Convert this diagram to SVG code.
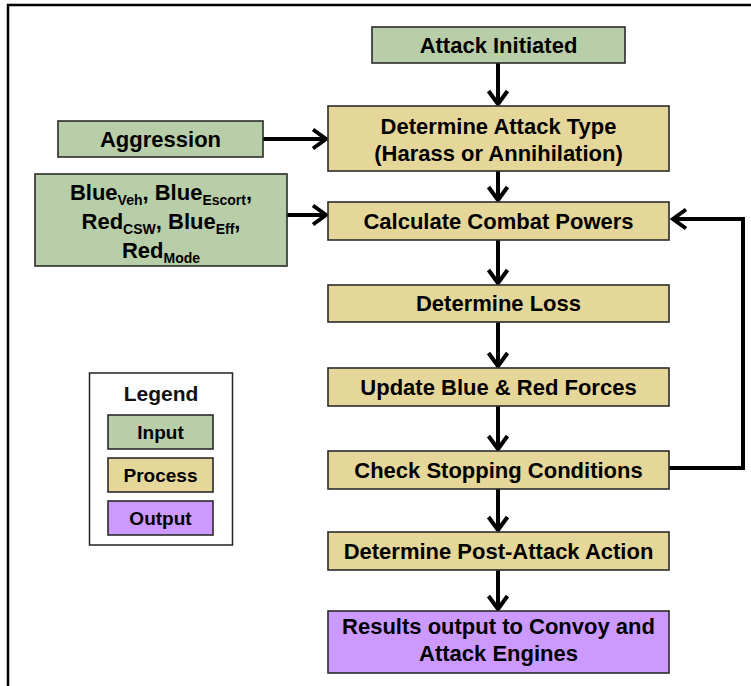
<svg xmlns="http://www.w3.org/2000/svg" width="751" height="686" viewBox="0 0 751 686">
  <style>
    .box { stroke: #2b2b2b; stroke-width: 1.6; }
    .input { fill: #b8cea9; }
    .process { fill: #e5d799; }
    .output { fill: #cc99ff; }
    .label { font-family: "Liberation Sans", Arial, sans-serif; font-weight: bold; font-size: 22px; fill: #000; text-anchor: middle; }
    .sub { font-size: 14px; }
    .legend-title { font-family: "Liberation Sans", Arial, sans-serif; font-weight: bold; font-size: 21px; fill: #111; text-anchor: middle; }
    .legend-item { font-family: "Liberation Sans", Arial, sans-serif; font-weight: bold; font-size: 19px; fill: #000; text-anchor: middle; }
    .conn { fill: none; stroke: #000; stroke-width: 4; }
  </style>
  <defs>
    <marker id="chevron" markerUnits="userSpaceOnUse" markerWidth="20" markerHeight="24" refX="15" refY="11" orient="auto" viewBox="0 0 20 22">
      <path d="M2,1.5 L15,11 L2,20.5" fill="none" stroke="#000" stroke-width="4" stroke-linejoin="miter"/>
    </marker>
  </defs>

  <rect width="751" height="686" fill="#ffffff"/>
  <!-- outer frame -->
  <path d="M8,690 V5 H760" fill="none" stroke="#000" stroke-width="2.5"/>

  <!-- connectors -->
  <g id="connectors">
    <line class="conn" x1="498" y1="63" x2="498" y2="104" marker-end="url(#chevron)"/>
    <line class="conn" x1="263" y1="139" x2="326" y2="139" marker-end="url(#chevron)"/>
    <line class="conn" x1="498" y1="171" x2="498" y2="200" marker-end="url(#chevron)"/>
    <line class="conn" x1="287" y1="215" x2="326" y2="215" marker-end="url(#chevron)"/>
    <line class="conn" x1="498" y1="240" x2="498" y2="283" marker-end="url(#chevron)"/>
    <line class="conn" x1="498" y1="322" x2="498" y2="366" marker-end="url(#chevron)"/>
    <line class="conn" x1="498" y1="406" x2="498" y2="449" marker-end="url(#chevron)"/>
    <line class="conn" x1="498" y1="489" x2="498" y2="530" marker-end="url(#chevron)"/>
    <line class="conn" x1="498" y1="570" x2="498" y2="609" marker-end="url(#chevron)"/>
    <path class="conn" d="M669,468 H743 V219 H673" marker-end="url(#chevron)"/>
  </g>

  <!-- nodes -->
  <g id="attack-initiated">
    <rect class="box input" x="372" y="27" width="253" height="36"/>
    <text class="label" x="498.5" y="52.5">Attack Initiated</text>
  </g>

  <g id="aggression">
    <rect class="box input" x="58" y="121" width="205" height="36"/>
    <text class="label" x="160.5" y="146.5">Aggression</text>
  </g>

  <g id="determine-attack-type">
    <rect class="box process" x="328" y="106" width="341" height="65"/>
    <text class="label" x="498.5" y="133.5">Determine Attack Type</text>
    <text class="label" x="498.5" y="160.5">(Harass or Annihilation)</text>
  </g>

  <g id="force-inputs">
    <rect class="box input" x="35" y="174" width="252" height="92"/>
    <text class="label" x="161" y="200">Blue<tspan class="sub" dy="5">Veh</tspan><tspan dy="-5">, Blue</tspan><tspan class="sub" dy="5">Escort</tspan><tspan dy="-5">,</tspan></text>
    <text class="label" x="161" y="229">Red<tspan class="sub" dy="5">CSW</tspan><tspan dy="-5">, Blue</tspan><tspan class="sub" dy="5">Eff</tspan><tspan dy="-5">,</tspan></text>
    <text class="label" x="161" y="258">Red<tspan class="sub" dy="5">Mode</tspan></text>
  </g>

  <g id="calculate-combat-powers">
    <rect class="box process" x="328" y="202" width="341" height="38"/>
    <text class="label" x="498.5" y="228.5">Calculate Combat Powers</text>
  </g>

  <g id="determine-loss">
    <rect class="box process" x="328" y="285" width="341" height="37"/>
    <text class="label" x="498.5" y="310.5">Determine Loss</text>
  </g>

  <g id="update-forces">
    <rect class="box process" x="328" y="368" width="341" height="38"/>
    <text class="label" x="498.5" y="394.5">Update Blue &amp; Red Forces</text>
  </g>

  <g id="check-stopping">
    <rect class="box process" x="328" y="451" width="341" height="38"/>
    <text class="label" x="498.5" y="477.5">Check Stopping Conditions</text>
  </g>

  <g id="post-attack-action">
    <rect class="box process" x="328" y="532" width="341" height="38"/>
    <text class="label" x="498.5" y="558.5">Determine Post-Attack Action</text>
  </g>

  <g id="results-output">
    <rect class="box output" x="328" y="611" width="341" height="62"/>
    <text class="label" x="498.5" y="633.5">Results output to Convoy and</text>
    <text class="label" x="498.5" y="660.5">Attack Engines</text>
  </g>

  <!-- legend -->
  <g id="legend">
    <rect x="89.5" y="373" width="143" height="172" fill="#fff" stroke="#222" stroke-width="1.5"/>
    <text class="legend-title" x="161" y="400.5">Legend</text>
    <rect class="box input" x="108" y="415" width="105" height="34"/>
    <text class="legend-item" x="160.5" y="438.5">Input</text>
    <rect class="box process" x="108" y="458" width="105" height="34"/>
    <text class="legend-item" x="160.5" y="481.5">Process</text>
    <rect class="box output" x="108" y="501" width="105" height="34"/>
    <text class="legend-item" x="160.5" y="524.5">Output</text>
  </g>
</svg>
